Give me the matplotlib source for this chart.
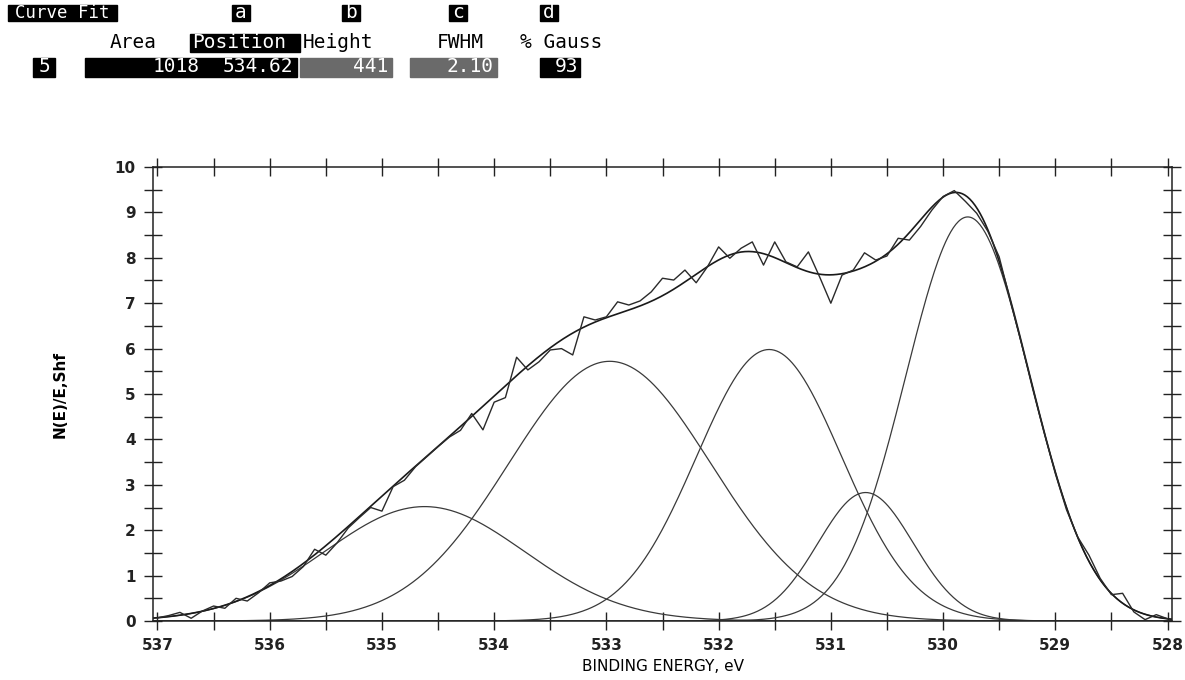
import numpy as np
import matplotlib
matplotlib.use("Agg")
from matplotlib import pyplot as plt
import matplotlib.patches as mpatches

W, H = 1185, 680

# espectro medido, de 537.0 a 528.0 eV cada 0.1 eV
energia = np.round(np.arange(537.0, 527.95, -0.1), 1)
cuentas = [0.07, 0.12, 0.19, 0.06, 0.22, 0.33, 0.28, 0.50, 0.44, 0.62,
           0.84, 0.88, 0.98, 1.20, 1.58, 1.45, 1.72, 2.05, 2.28, 2.50,
           2.42, 2.96, 3.10, 3.40, 3.62, 3.84, 4.05, 4.20, 4.57, 4.21,
           4.82, 4.92, 5.81, 5.53, 5.71, 5.97, 6.00, 5.86, 6.70, 6.63,
           6.70, 7.03, 6.96, 7.05, 7.25, 7.55, 7.51, 7.73, 7.45, 7.80,
           8.24, 7.99, 8.21, 8.35, 7.84, 8.35, 7.91, 7.80, 8.13, 7.58,
           7.00, 7.62, 7.73, 8.11, 7.95, 8.04, 8.43, 8.39, 8.69, 9.05,
           9.35, 9.48, 9.24, 8.98, 8.58, 8.02, 7.05, 6.10, 5.10, 4.15,
           3.25, 2.45, 1.85, 1.45, 0.94, 0.58, 0.61, 0.20, 0.03, 0.14,
           0.05]

# componentes del ajuste (posicion, altura, FWHM)
posiciones = [534.62, 532.97, 531.55, 530.69, 529.78]
alturas = [2.52, 5.72, 5.98, 2.83, 8.90]
anchos = [2.10, 2.12, 1.52, 1.00, 1.30]

x_ticks = [537, 536, 535, 534, 533, 532, 531, 530, 529, 528]
y_ticks = [0, 1, 2, 3, 4, 5, 6, 7, 8, 9, 10]

fuente = "DejaVu Sans"
mono = "DejaVu Sans Mono"


def componente(x, pos, alt, fwhm):
    d = (x - pos) / fwhm
    return alt * np.exp(-4 * np.log(2) * d ** 2)


fig = plt.figure(figsize=(W / 100, H / 100), dpi=100)
ax = fig.add_axes([153 / W, 1 - 621 / H, (1172 - 153) / W, (621 - 167) / H])

xs = np.linspace(537.05, 527.95, 800)
total = np.zeros_like(xs)
for p, a, w in zip(posiciones, alturas, anchos):
    c = componente(xs, p, a, w)
    total += c
    ax.plot(xs, c, color="#3a3a3a", lw=0.9)

ax.plot(xs, total, color="#1a1a1a", lw=1.2)
ax.plot(energia, cuentas, color="#2a2a2a", lw=1.0)

ax.set_xlim(537.04, 527.96)
ax.set_ylim(0, 10)
ax.set_xticks(x_ticks)
ax.set_yticks(y_ticks)
ax.set_xticks(np.arange(536.5, 528, -1.0), minor=True)
ax.set_yticks(np.arange(0.5, 10, 1.0), minor=True)
ax.tick_params(which="both", direction="inout", length=13, width=1.0,
               top=True, right=True, colors="#222")
ax.tick_params(labelsize=11, pad=6)
for lab in ax.get_xticklabels() + ax.get_yticklabels():
    lab.set_fontfamily(fuente)
    lab.set_fontweight("bold")
for s in ax.spines.values():
    s.set_linewidth(1.1)
    s.set_color("#222")

ax.set_xlabel("BINDING ENERGY, eV", fontfamily=fuente, fontsize=11, labelpad=4)
ax.set_ylabel("N(E)/E,Shf", fontfamily=fuente, fontsize=11, fontweight="bold", labelpad=34)


# cabecera del ajuste
def caja(x0, y0, x1, y1, color):
    fig.patches.append(mpatches.Rectangle((x0 / W, 1 - y1 / H), (x1 - x0) / W, (y1 - y0) / H,
                                          transform=fig.transFigure, color=color, zorder=1))


def texto(x, y, s, color="black", ha="left", size=14):
    fig.text(x / W, 1 - y / H, s, color=color, ha=ha, va="center",
             fontfamily=mono, fontsize=size, zorder=2)


caja(8, 5, 117, 21, "black")
texto(62, 13, "Curve Fit", "white", "center", 12.5)
for letra, x0 in zip(["a", "b", "c", "d"], [232, 342, 449, 540]):
    caja(x0, 5, x0 + 18, 21, "black")
    texto(x0 + 9, 13, letra, "white", "center")

texto(110, 43, "Area")
caja(190, 34, 300, 52, "black")
texto(192, 43, "Position", "white")
texto(303, 43, "Height")
texto(437, 43, "FWHM")
texto(520, 43, "% Gauss")

caja(33, 58, 55, 77, "black")
texto(44, 67, "5", "white", "center")
caja(85, 58, 297, 77, "black")
texto(200, 67, "1018", "white", "right")
texto(293, 67, "534.62", "white", "right")
caja(300, 58, 392, 77, "#6a6a6a")
texto(388, 67, "441", "white", "right")
caja(410, 58, 497, 77, "#6a6a6a")
texto(493, 67, "2.10", "white", "right")
caja(540, 58, 580, 77, "black")
texto(578, 67, "93", "white", "right")

fig.savefig("out.png", dpi=100)
